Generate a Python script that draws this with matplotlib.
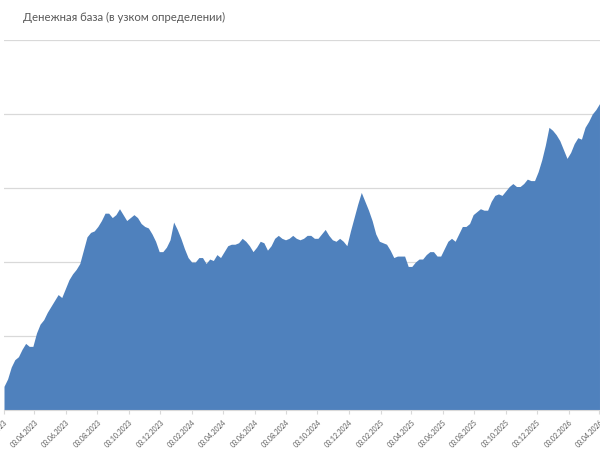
import numpy as np
import pandas as pd
import matplotlib
matplotlib.use('Agg')
import matplotlib.pyplot as plt

plt.rcParams['font.family'] = ['Lato', 'DejaVu Sans']

title = 'Денежная база (в узком определении)'

# недельные значения (трлн руб., оценка по картинке), с 03.02.2023
start_date = '2023-02-03'
values = [16.16, 16.21, 16.29, 16.34, 16.36, 16.41, 16.45, 16.43, 16.43, 16.52,
          16.58, 16.61, 16.66, 16.70, 16.74, 16.78, 16.76, 16.82, 16.88, 16.92,
          16.95, 16.99, 17.08, 17.17, 17.20, 17.21, 17.24, 17.28, 17.33, 17.33,
          17.30, 17.32, 17.36, 17.32, 17.28, 17.30, 17.32, 17.30, 17.26, 17.24,
          17.23, 17.19, 17.14, 17.07, 17.07, 17.10, 17.15, 17.27, 17.22, 17.16,
          17.09, 17.03, 17.00, 17.00, 17.03, 17.03, 16.99, 17.02, 17.01, 17.05,
          17.03, 17.07, 17.11, 17.12, 17.12, 17.13, 17.16, 17.14, 17.11, 17.07,
          17.10, 17.14, 17.13, 17.08, 17.11, 17.16, 17.18, 17.16, 17.15, 17.16,
          17.18, 17.16, 17.15, 17.16, 17.18, 17.18, 17.16, 17.16, 17.19, 17.22,
          17.18, 17.15, 17.14, 17.16, 17.14, 17.11, 17.21, 17.30, 17.39, 17.47,
          17.41, 17.35, 17.28, 17.19, 17.14, 17.13, 17.12, 17.08, 17.03, 17.04,
          17.04, 17.04, 16.97, 16.97, 17.00, 17.02, 17.02, 17.05, 17.07, 17.07,
          17.04, 17.04, 17.09, 17.14, 17.16, 17.14, 17.19, 17.24, 17.24, 17.26,
          17.32, 17.34, 17.36, 17.35, 17.35, 17.41, 17.45, 17.46, 17.45, 17.48,
          17.51, 17.53, 17.51, 17.51, 17.53, 17.56, 17.55, 17.55, 17.61, 17.69,
          17.79, 17.91, 17.89, 17.86, 17.82, 17.76, 17.70, 17.74, 17.80, 17.84,
          17.83, 17.91, 17.95, 18.00, 18.03, 18.07]

dates = pd.date_range(start_date, periods=len(values), freq='7D')
tick_dates = pd.date_range('2023-02-03', '2026-04-03', freq=pd.DateOffset(months=2))
y_grid = np.arange(16, 18.51, 0.5)

fig = plt.figure(figsize=(6, 4.5), dpi=100)
ax = fig.add_axes([4/600, 40/450, 596/600, 370/450])

ax.fill_between(dates, values, 16, color='#4f81bd', lw=0, zorder=2)

ax.set_ylim(16, 18.5)
ax.set_xlim(dates[0], dates[0] + pd.Timedelta(days=1156))
ax.set_yticks(y_grid)
ax.yaxis.grid(True, color='#d9d9d9', lw=0.9)
ax.set_axisbelow(True)
ax.tick_params(axis='y', left=False, labelleft=False)

for s in ['left', 'right', 'top']:
    ax.spines[s].set_visible(False)
ax.spines['bottom'].set_color('#d9d9d9')
ax.spines['bottom'].set_zorder(3)

ax.set_xticks(tick_dates)
ax.set_xticklabels([d.strftime('%d.%m.%Y') for d in tick_dates])
ax.tick_params(axis='x', length=3, color='#d9d9d9', labelsize=5,
               labelcolor='#595959', pad=3)
for lbl in ax.get_xticklabels():
    lbl.set_rotation(45)
    lbl.set_ha('right')
    lbl.set_va('top')
    lbl.set_rotation_mode('anchor')

fig.text(23/600, 1 - 17/450, title, va='center', ha='left', fontsize=8.2, color='#595959')

fig.savefig('out.png', dpi=100)
